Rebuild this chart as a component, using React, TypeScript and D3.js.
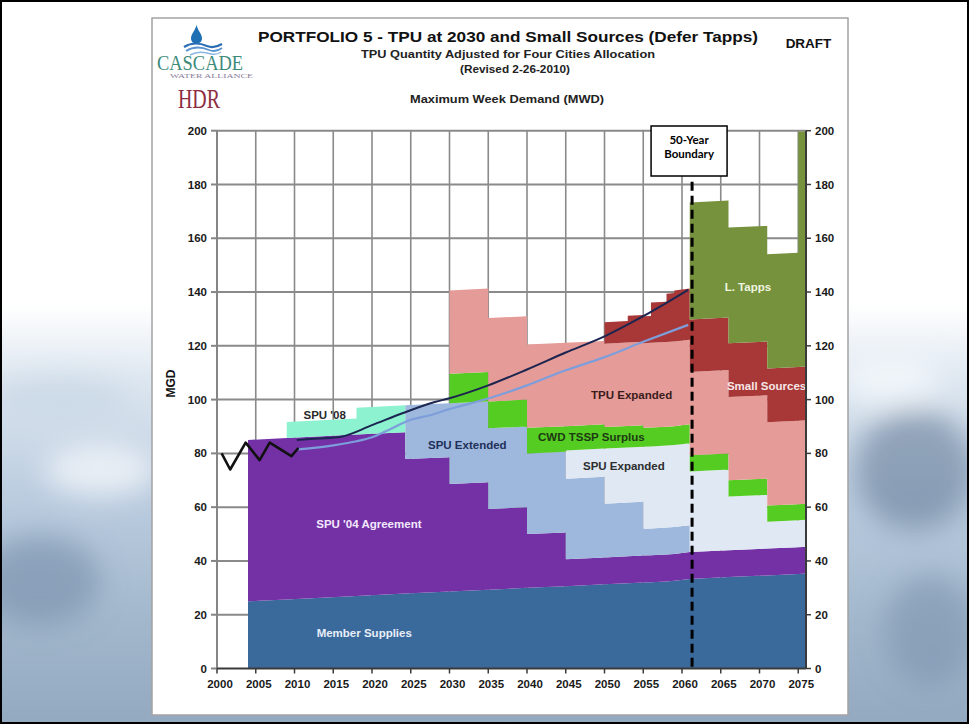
import * as React from "react"
import * as d3 from "d3"

const W = 969
const H = 724

// year boundaries of the stepped supply blocks
const bounds = [2004, 2009, 2018, 2024.3, 2030, 2035, 2040, 2045, 2050, 2053, 2055, 2056, 2058, 2059, 2061, 2066, 2071, 2075, 2076]
// member supplies (MGD) at each boundary
const memberSupplies = [25, 25.7, 27, 27.9, 28.6, 29.3, 30, 30.6, 31.3, 31.7, 32, 32.1, 32.4, 32.6, 33.3, 34, 34.6, 35.1, 35.3]
// block height (MGD) for each of the 18 segments
const spu04 = [60, 60, 60, 50, 40, 30, 20, 10, 10, 10, 10, 10, 10, 10, 10, 10, 10, 10]
const spu08 = [0, 6, 10, 0, 0, 0, 0, 0, 0, 0, 0, 0, 0, 0, 0, 0, 0, 0]
const spuExtended = [0, 0, 0, 20, 30, 30, 30, 30, 20, 20, 10, 10, 10, 10, 0, 0, 0, 0]
const spuExpanded = [0, 0, 0, 0, 0, 0, 0, 10.5, 20.5, 20.5, 30.5, 30.5, 30.5, 30.5, 30, 20, 10, 10]
const cwdSurplus = [0, 0, 0, 0, 11, 10, 9.5, 9, 8, 8, 7, 7, 7, 7, 6, 6, 6, 6]
const tpuExpanded = [0, 0, 0, 0, 31, 31, 31, 31, 31, 31, 31.5, 31.5, 31.5, 31.5, 31, 31, 31, 31]
const smallSources = [0, 0, 0, 0, 0, 0, 0, 0, 8, 10, 10, 15, 18, 19, 19.5, 20, 20, 20]
const lTapps = [0, 0, 0, 0, 0, 0, 0, 0, 0, 0, 0, 0, 0, 0, 43.5, 43, 42.5, 87.5]

const layers = [spu04, spu08, spuExtended, spuExpanded, cwdSurplus, tpuExpanded, smallSources, lTapps]
const layerColors = ["#7331a5", "#8cf2cf", "#9db8dc", "#dfe8f3", "#55cc22", "#e59b97", "#a83838", "#76923c"]
const memberColor = "#3a6a9b"

// demand lines
const actualYears = [2000.6, 2001.7, 2003.7, 2005.5, 2006.8, 2009.6, 2010.5]
const actualMGD = [80, 74, 84, 77.5, 84, 79, 82]
const demandYears = [2010.3, 2013, 2016, 2020, 2024, 2028, 2030, 2035, 2040, 2045, 2050, 2055, 2060.8]
const demandMGD = [85, 85.5, 86.2, 90.5, 95, 99, 100.5, 105.3, 111.2, 117.5, 123.5, 131, 140.8]
const conservYears = [2010.5, 2015, 2018, 2020, 2022, 2025, 2027.5, 2030, 2035, 2040, 2045, 2050, 2055, 2060.8]
const conservMGD = [81.5, 83, 84.5, 86, 88.5, 92.5, 94.2, 96.5, 100.4, 105.3, 110.9, 115.8, 121.5, 127.8]

const xTicks = d3.range(2000, 2076, 5)
const yTicks = d3.range(0, 201, 20)
const boundaryYear = 2061.3

const labels = [
  { text: "SPU '08", year: 2013.9, mgd: 94.3, fill: "#2a2a2a" },
  { text: "SPU Extended", year: 2032.3, mgd: 83.1, fill: "#1f2f5a" },
  { text: "SPU '04 Agreement", year: 2019.6, mgd: 53.7, fill: "#f3e8ff" },
  { text: "Member Supplies", year: 2019, mgd: 13.3, fill: "#e8eef8" },
  { text: "CWD TSSP Surplus", year: 2048.3, mgd: 86, fill: "#1c3a12" },
  { text: "SPU Expanded", year: 2052.5, mgd: 75.4, fill: "#2d2d2d" },
  { text: "TPU Expanded", year: 2053.5, mgd: 101.7, fill: "#3a1c1c" },
  { text: "L. Tapps", year: 2068.5, mgd: 142, fill: "#eef4e0" },
]

const SANS = "'Liberation Sans', Arial, sans-serif"

type Pt = { year: number; lo: number; hi: number; on: boolean }

export default function App() {
  const x = d3.scaleLinear().domain([2000, 2076]).range([217, 806])
  const y = d3.scaleLinear().domain([0, 200]).range([668.5, 130.7])

  const stacked: Pt[][] = layers.map(() => [])
  for (let i = 0; i < bounds.length - 1; i++) {
    let b0 = memberSupplies[i]
    let b1 = memberSupplies[i + 1]
    layers.forEach((vals, k) => {
      const t = vals[i]
      stacked[k].push({ year: bounds[i], lo: b0, hi: b0 + t, on: t > 0 })
      stacked[k].push({ year: bounds[i + 1], lo: b1, hi: b1 + t, on: t > 0 })
      b0 += t
      b1 += t
    })
  }
  const memberPts: Pt[] = bounds.map((b, i) => ({ year: b, lo: 0, hi: memberSupplies[i], on: true }))

  const area = d3
    .area<Pt>()
    .defined((d) => d.on)
    .x((d) => x(d.year))
    .y0((d) => y(d.lo))
    .y1((d) => y(d.hi))

  const line = d3
    .line<[number, number]>()
    .x((d) => x(d[0]))
    .y((d) => y(d[1]))
  const smooth = line.curve(d3.curveMonotoneX)
  const actualPath = d3.line<[number, number]>().x((d) => x(d[0])).y((d) => y(d[1]))(
    actualYears.map((yr, i) => [yr, actualMGD[i]])
  )
  const demandPath = smooth(demandYears.map((yr, i) => [yr, demandMGD[i]]))
  const conservPath = smooth(conservYears.map((yr, i) => [yr, conservMGD[i]]))

  const [x0, x1] = x.range()
  const [yb, yt] = y.range()
  const xd = x(boundaryYear)

  return (
    <svg width={W} height={H} style={{ position: "absolute", left: 0, top: 0 }} fontFamily={SANS}>
      <defs>
        <linearGradient id="water" x1="0" y1="0" x2="0" y2="1">
          <stop offset="0" stopColor="#ffffff" />
          <stop offset="0.42" stopColor="#ffffff" />
          <stop offset="0.52" stopColor="#dfe8f1" />
          <stop offset="0.68" stopColor="#bccde0" />
          <stop offset="0.86" stopColor="#a2b7cc" />
          <stop offset="1" stopColor="#93a9c0" />
        </linearGradient>
        <filter id="soft" x="-50%" y="-50%" width="200%" height="200%">
          <feGaussianBlur stdDeviation="14" />
        </filter>
        <clipPath id="plotClip">
          <rect x={x0} y={yt} width={x1 - x0} height={yb - yt} />
        </clipPath>
      </defs>

      {/* slide background */}
      <rect width={W} height={H} fill="url(#water)" />
      <g filter="url(#soft)">
        <ellipse cx={40} cy={580} rx={60} ry={45} fill="#7188a6" opacity={0.55} />
        <ellipse cx={100} cy={470} rx={55} ry={25} fill="#f2f6fa" opacity={0.8} />
        <ellipse cx={60} cy={400} rx={70} ry={22} fill="#c9d7e6" opacity={0.8} />
        <ellipse cx={915} cy={470} rx={60} ry={60} fill="#687e9a" opacity={0.6} />
        <ellipse cx={930} cy={630} rx={45} ry={55} fill="#7a90ab" opacity={0.55} />
        <ellipse cx={890} cy={380} rx={50} ry={25} fill="#f4f7fb" opacity={0.8} />
      </g>
      <rect x={1} y={1} width={W - 2} height={H - 2} fill="none" stroke="#000" strokeWidth={2} />

      {/* chart frame */}
      <rect x={152} y={18} width={696} height={697} fill="#fff" stroke="#a3a3a3" strokeWidth={1.5} />

      {/* logos */}
      <path d="M196.5,25 C195,31 191,34 191,38.5 C191,41.5 193.5,43.5 196.5,43.5 C199.5,43.5 202,41.5 202,38.5 C202,34 198,31 196.5,25 Z" fill="#1f6fb4" />
      <path d="M184,47 C192,42 200,43 207,46 C212,48 217,47 222,44" fill="none" stroke="#2a6db5" strokeWidth={2.2} />
      <path d="M186,51 C194,46 202,47 209,50 C214,52 218,51 222,48" fill="none" stroke="#5b93cf" strokeWidth={1.8} />
      <path d="M190,55 C197,51 205,52 211,54 C215,55 218,54 221,52" fill="none" stroke="#8db6e2" strokeWidth={1.5} />
      <text x={157} y={69.5} fontFamily="'Liberation Serif', 'DejaVu Serif', serif" fontSize={22} fill="#3d8b7b" textLength={86} lengthAdjust="spacingAndGlyphs">
        CASCADE
      </text>
      <text x={170} y={78} fontFamily="'Liberation Serif', serif" fontSize={6} fill="#8b7d9b" textLength={83} lengthAdjust="spacingAndGlyphs">
        WATER ALLIANCE
      </text>
      <text x={178} y={108} fontFamily="'Liberation Serif', serif" fontSize={28} fill="#8e2c42" textLength={42} lengthAdjust="spacingAndGlyphs">
        HDR
      </text>

      {/* titles */}
      <text x={508} y={42} textAnchor="middle" fontSize={15.5} fontWeight="bold" fill="#111" textLength={500} lengthAdjust="spacingAndGlyphs">
        PORTFOLIO 5 - TPU at 2030 and Small Sources (Defer Tapps)
      </text>
      <text x={508} y={57.5} textAnchor="middle" fontSize={11} fontWeight="bold" fill="#222" textLength={294} lengthAdjust="spacingAndGlyphs">
        TPU Quantity Adjusted for Four Cities Allocation
      </text>
      <text x={515} y={72.5} textAnchor="middle" fontSize={11} fontWeight="bold" fill="#222" textLength={110} lengthAdjust="spacingAndGlyphs">
        (Revised  2-26-2010)
      </text>
      <text x={507} y={103} textAnchor="middle" fontSize={11} fontWeight="bold" fill="#222" textLength={194} lengthAdjust="spacingAndGlyphs">
        Maximum Week Demand (MWD)
      </text>
      <text x={808.5} y={47.5} textAnchor="middle" fontSize={13.5} fontWeight="bold" fill="#111">
        DRAFT
      </text>

      {/* plot */}
      <rect x={x0} y={yt} width={x1 - x0} height={yb - yt} fill="#fff" />
      <g stroke="#8a8a8a">
        {yTicks.slice(1).map((v) => (
          <line key={"h" + v} x1={x0} x2={x1} y1={y(v)} y2={y(v)} strokeWidth={2} />
        ))}
        {xTicks.slice(1).map((v) => (
          <line key={"v" + v} x1={x(v)} x2={x(v)} y1={yt} y2={yb} strokeWidth={1.6} />
        ))}
      </g>

      <g clipPath="url(#plotClip)">
        <path d={area(memberPts) || ""} fill={memberColor} />
        {stacked.map((pts, k) => (
          <path key={k} d={area(pts) || ""} fill={layerColors[k]} />
        ))}
        <path d={conservPath || ""} fill="none" stroke="#7d9edb" strokeWidth={2.2} />
        <path d={demandPath || ""} fill="none" stroke="#1b2550" strokeWidth={2} />
        <path d={actualPath || ""} fill="none" stroke="#111" strokeWidth={2.6} strokeLinejoin="round" />

        {labels.map((l) => (
          <text key={l.text} x={x(l.year)} y={y(l.mgd)} dy="0.35em" textAnchor="middle" fontSize={11.5} fontWeight="bold" fill={l.fill}>
            {l.text}
          </text>
        ))}
        <text x={x(2065.8)} y={y(105.2)} dy="0.35em" fontSize={11.5} fontWeight="bold" fill="#f6e6e6">
          Small Sources
        </text>
      </g>

      {/* 50-year boundary */}
      <line x1={xd} x2={xd} y1={y(181)} y2={yb} stroke="#000" strokeWidth={3} strokeDasharray="9,5" />
      <rect x={xd - 41} y={126} width={76} height={50} fill="#fff" stroke="#000" strokeWidth={1.5} />
      <text x={xd - 3} y={143.5} textAnchor="middle" fontFamily="Lato, 'Open Sans', sans-serif" fontSize={11.5} fontWeight="bold" fill="#000">
        50-Year
      </text>
      <text x={xd - 3} y={158} textAnchor="middle" fontFamily="Lato, 'Open Sans', sans-serif" fontSize={11.5} fontWeight="bold" fill="#000">
        Boundary
      </text>

      {/* axes */}
      <line x1={x0} x2={x0} y1={yt} y2={yb} stroke="#858585" strokeWidth={2} />
      <line x1={x1} x2={x1} y1={yt} y2={yb} stroke="#3a3a3a" strokeWidth={2} />
      <line x1={x0} x2={x1} y1={yb} y2={yb} stroke="#3a3a3a" strokeWidth={2} />
      {yTicks.map((v) => (
        <g key={"yt" + v}>
          <line x1={x0 - 6} x2={x0} y1={y(v)} y2={y(v)} stroke="#858585" strokeWidth={2} />
          <line x1={x1} x2={x1 + 5} y1={y(v)} y2={y(v)} stroke="#3a3a3a" strokeWidth={1.5} />
          <text x={x0 - 10} y={y(v)} dy="0.35em" textAnchor="end" fontSize={11.5} fontWeight="bold" fill="#1a1a1a">
            {v}
          </text>
          <text x={x1 + 9} y={y(v)} dy="0.35em" fontSize={11.5} fontWeight="bold" fill="#1a1a1a">
            {v}
          </text>
        </g>
      ))}
      {xTicks.map((v) => (
        <g key={"xt" + v}>
          <line x1={x(v)} x2={x(v)} y1={yb} y2={yb + 5} stroke="#3a3a3a" strokeWidth={1.5} />
          <text x={x(v) + 3} y={yb + 19} textAnchor="middle" fontSize={11.5} fontWeight="bold" fill="#1a1a1a">
            {v}
          </text>
        </g>
      ))}
      <text transform={`translate(175,${y(106)}) rotate(-90)`} textAnchor="middle" fontSize={12} fontWeight="bold" fill="#111">
        MGD
      </text>
    </svg>
  )
}
